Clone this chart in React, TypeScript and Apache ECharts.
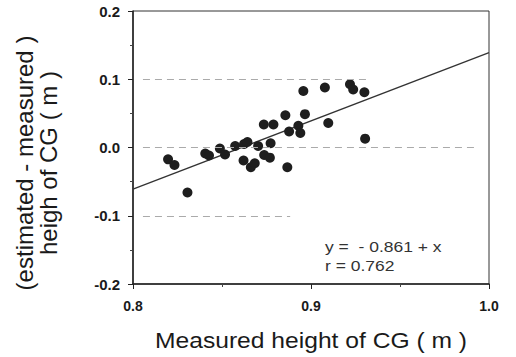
import React, { useEffect, useRef } from "react";
import * as echarts from "echarts";

// Measured height of CG (m)
const measuredX = [
  0.8197, 0.8233, 0.8306, 0.8406, 0.8427, 0.8488, 0.8517, 0.8574, 0.8624, 0.8643,
  0.8621, 0.8662, 0.8684, 0.8703, 0.8737, 0.8769, 0.8773, 0.8735, 0.8789, 0.8856,
  0.8867, 0.8877, 0.8929, 0.894, 0.8957, 0.8966, 0.9078, 0.9097, 0.9219, 0.9237,
  0.93, 0.9304,
];
// (estimated - measured) height of CG (m)
const diffY = [
  -0.0173, -0.0256, -0.0659, -0.0088, -0.0117, -0.0015, -0.0103, 0.0022, 0.0051, 0.0081,
  -0.019, -0.029, -0.0231, 0.0022, -0.011, -0.0149, 0.0062, 0.0337, 0.0337, 0.0472,
  -0.029, 0.0234, 0.0319, 0.0212, 0.0828, 0.0488, 0.0879, 0.0359, 0.0927, 0.085,
  0.0809, 0.0129,
];

const intercept = -0.861;
const fitX = [0.8, 1.0];
const fitY = fitX.map((x) => intercept + x);

const yTicks = [-0.2, -0.1, 0.0, 0.1, 0.2];
const xTicks = [0.8, 0.9, 1.0];

// faint reference lines at y = 0.1, 0, -0.1 (drawn partially in the original)
const refY = [0.1, 0.0, -0.1];
const refStart = [0.8056, 0.8056, 0.8056];
const refEnd = [0.9316, 0.9935, 0.8883];

const eqText = "y =  - 0.861 + x";
const rText = "r = 0.762";
const xTitle = "Measured height of CG ( m )";
const yTitle = "(estimated - measured )\nheigh of CG ( m )";

const FONT = "'Liberation Sans', Arial, Helvetica, sans-serif";

export default function App() {
  const ref = useRef<HTMLDivElement>(null);

  useEffect(() => {
    if (!ref.current) return;
    const chart = echarts.init(ref.current, undefined, { renderer: "svg" });
    const fmt = (v: number) => (Math.abs(v) < 1e-9 ? "0.0" : v.toFixed(1));
    chart.setOption({
      animation: false,
      backgroundColor: "#ffffff",
      textStyle: { fontFamily: FONT },
      grid: {
        left: 133,
        right: 27,
        top: 11,
        bottom: 73,
        show: true,
        borderColor: "#333",
        borderWidth: 1,
        backgroundColor: "transparent",
      },
      xAxis: {
        type: "value",
        min: xTicks[0],
        max: xTicks[xTicks.length - 1],
        interval: 0.1,
        axisLine: { show: true, onZero: false, lineStyle: { color: "#222", width: 1.5 } },
        axisTick: { show: true, length: 5, lineStyle: { color: "#222" } },
        minorTick: { show: true, splitNumber: 2, length: 3, lineStyle: { color: "#444" } },
        splitLine: { show: false },
        axisLabel: {
          formatter: fmt,
          color: "#1a1a1a",
          fontSize: 14,
          fontWeight: "bold",
          fontFamily: FONT,
          margin: 15,
        },
      },
      yAxis: {
        type: "value",
        min: yTicks[0],
        max: yTicks[yTicks.length - 1],
        interval: 0.1,
        axisLine: { show: true, onZero: false, lineStyle: { color: "#222", width: 1.5 } },
        axisTick: { show: true, length: 5, lineStyle: { color: "#222" } },
        minorTick: { show: true, splitNumber: 2, length: 3, lineStyle: { color: "#444" } },
        splitLine: { show: false },
        axisLabel: {
          formatter: fmt,
          color: "#1a1a1a",
          fontSize: 15,
          fontWeight: "bold",
          fontFamily: FONT,
          margin: 13,
        },
      },
      series: [
        {
          type: "line",
          data: fitX.map((x, i) => [x, fitY[i]]),
          symbol: "none",
          lineStyle: { color: "#333", width: 1.3 },
          silent: true,
          z: 3,
          markLine: {
            silent: true,
            symbol: "none",
            label: { show: false },
            lineStyle: { color: "#aaa", width: 1, type: [7, 5] },
            data: refY.map((y, i) => [
              { coord: [refStart[i], y] },
              { coord: [refEnd[i], y] },
            ]),
          },
        },
        {
          type: "scatter",
          data: measuredX.map((x, i) => [x, diffY[i]]),
          symbol: "circle",
          symbolSize: 10,
          itemStyle: { color: "#1e1e1e", opacity: 1 },
          z: 4,
        },
      ],
      graphic: [
        {
          type: "text",
          x: 36,
          y: 163,
          rotation: Math.PI / 2,
          style: {
            text: yTitle,
            font: `24px ${FONT}`,
            fill: "#1a1a1a",
            textAlign: "center",
            textVerticalAlign: "middle",
            lineHeight: 24,
          },
        },
        {
          type: "text",
          x: 311,
          y: 340,
          scaleX: 1.12,
          style: {
            text: xTitle,
            font: `22px ${FONT}`,
            fill: "#1a1a1a",
            textAlign: "center",
            textVerticalAlign: "middle",
          },
        },
        {
          type: "text",
          x: 325,
          y: 247,
          scaleX: 1.25,
          style: {
            text: eqText,
            font: `14px ${FONT}`,
            fill: "#333",
            textAlign: "left",
            textVerticalAlign: "middle",
          },
        },
        {
          type: "text",
          x: 325,
          y: 266,
          scaleX: 1.25,
          style: {
            text: rText,
            font: `14px ${FONT}`,
            fill: "#333",
            textAlign: "left",
            textVerticalAlign: "middle",
          },
        },
      ],
    });
    return () => chart.dispose();
  }, []);

  return <div ref={ref} style={{ width: 516, height: 357, position: "absolute", left: 0, top: 0 }} />;
}
